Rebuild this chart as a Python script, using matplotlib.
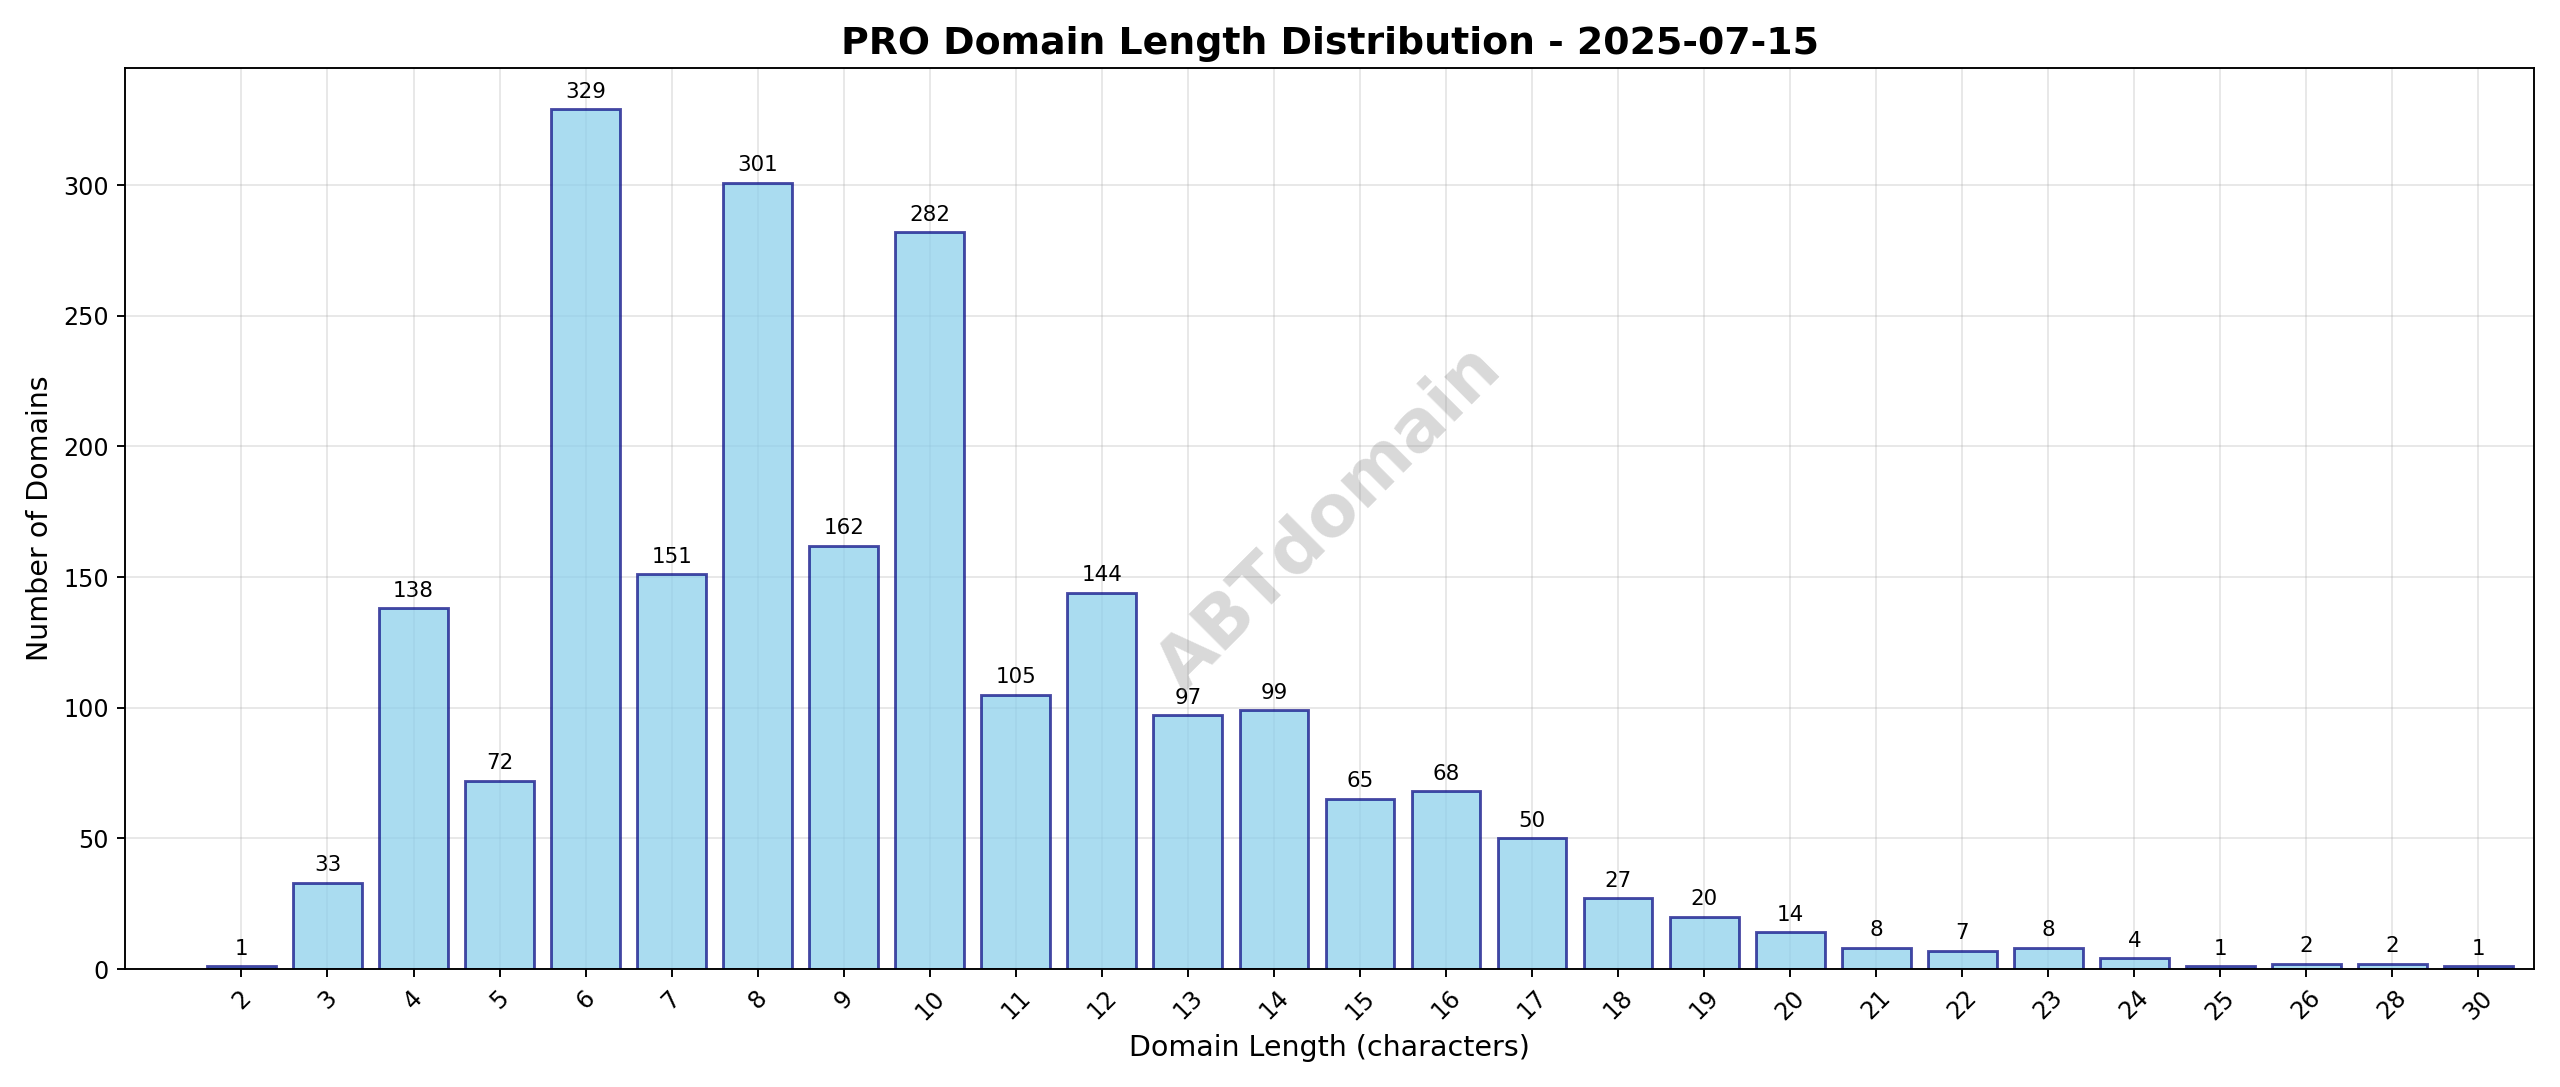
import numpy as np
import matplotlib.pyplot as plt

lengths = [2, 3, 4, 5, 6, 7, 8, 9, 10, 11, 12, 13, 14, 15, 16, 17, 18, 19, 20,
           21, 22, 23, 24, 25, 26, 28, 30]
counts = [1, 33, 138, 72, 329, 151, 301, 162, 282, 105, 144, 97, 99, 65, 68, 50,
          27, 20, 14, 8, 7, 8, 4, 1, 2, 2, 1]

fig, ax = plt.subplots(figsize=(15, 6.37), dpi=2560 / 15)
x = np.arange(len(lengths))
bars = ax.bar(x, counts, color="skyblue", edgecolor="navy", alpha=0.7, linewidth=1.2)
for xi, c in zip(x, counts):
    ax.text(xi, c + 3, str(c), ha="center", va="bottom", fontsize=9)

ax.set_xticks(x)
ax.set_xticklabels([str(v) for v in lengths], rotation=45)
ax.set_xlabel("Domain Length (characters)", fontsize=12)
ax.set_ylabel("Number of Domains", fontsize=12)
ax.set_title("PRO Domain Length Distribution - 2025-07-15", fontsize=16, fontweight="bold")
ax.grid(True, alpha=0.3)
ax.set_axisbelow(True)
ax.set_xlim(-1.35, len(lengths) - 0.35)
ax.set_ylim(0, 345)

ax.text(0.5, 0.5, "ABTdomain", transform=ax.transAxes, fontsize=30, fontweight="bold",
        color="gray", alpha=0.3, rotation=45, ha="center", va="center")

plt.tight_layout()
plt.savefig("out.png")
